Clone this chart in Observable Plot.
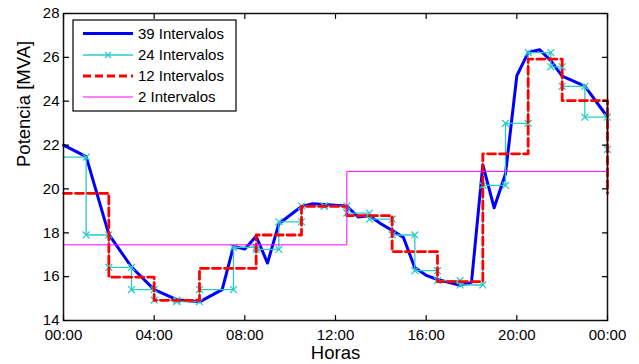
<!DOCTYPE html>
<html>
<head>
<meta charset="utf-8">
<script src="https://cdn.jsdelivr.net/npm/d3@7"></script>
<script src="https://cdn.jsdelivr.net/npm/@observablehq/plot@0.6"></script>
<style>
  html, body { margin: 0; padding: 0; background: white; }
  #chart { position: relative; width: 639px; height: 364px; }
</style>
</head>
<body>
<div id="chart"></div>
<script>
// ---- Data ----
const seriesNames = ["39 Intervalos", "24 Intervalos", "12 Intervalos", "2 Intervalos"];
const seriesColors = ["#0000ff", "#2ccaca", "#ff0000", "#ff00ff"];

// 39 intervals: hour, MVA
const blueT = [0, 1, 2, 3, 4, 5, 6, 7, 7.5, 8, 8.5, 9, 9.5, 10.5, 11, 11.5, 12.5, 13, 13.5, 14, 14.5, 15, 15.5, 16, 16.5, 17.5, 18, 18.5, 19, 19.5, 20, 20.5, 21, 21.5, 22, 23, 24];
const blueV = [22.0, 21.47, 17.93, 16.44, 15.41, 14.95, 14.85, 15.41, 17.38, 17.26, 17.84, 16.62, 18.41, 19.2, 19.33, 19.29, 19.22, 18.72, 18.78, 18.41, 18.11, 17.78, 16.4, 16.06, 15.87, 15.61, 15.74, 21.1, 19.14, 20.69, 25.16, 26.22, 26.35, 25.85, 25.14, 24.69, 23.28];

// 24 intervals: boundaries and step values
const cyanT = [0, 1, 2, 3, 4, 5, 6, 7.5, 8.5, 9.5, 10.5, 11.5, 12.5, 13.5, 14.5, 15.5, 16.5, 17.5, 18.5, 19.5, 20.5, 21.5, 22, 23, 24];
const cyanV = [21.45, 17.9, 16.42, 15.41, 14.93, 14.86, 15.41, 17.34, 17.24, 18.5, 19.22, 19.22, 18.9, 18.62, 17.9, 16.27, 15.82, 15.62, 20.16, 22.99, 26.22, 25.57, 24.68, 23.27];
const cyanEnd = 21.8;

// 12 intervals
const redT = [0, 2, 4, 6, 8.5, 10.5, 12.5, 14.5, 16.5, 18.5, 20.5, 22, 24];
const redV = [19.8, 15.98, 14.92, 16.38, 17.9, 19.2, 18.78, 17.14, 15.77, 21.6, 25.92, 24.03];
const redEnd = 19.8;

// 2 intervals
const magT = [0, 12.5, 24];
const magV = [17.45, 20.8];
const magEnd = 17.45;

const xTicks = [0, 4, 8, 12, 16, 20, 24];
const yTicks = [14, 16, 18, 20, 22, 24, 26, 28];
const xTickLabels = ["00:00", "04:00", "08:00", "12:00", "16:00", "20:00", "00:00"];

// ---- Build tables ----
const blue = blueT.map((t, i) => ({t, v: blueV[i]}));
function steps(T, V, end) {
  const pts = [];
  V.forEach((v, i) => { pts.push({t: T[i], v}); pts.push({t: T[i + 1], v}); });
  pts.push({t: T[T.length - 1], v: end});
  return pts;
}
const cyan = steps(cyanT, cyanV, cyanEnd);
const red = steps(redT, redV, redEnd);
const mag = steps(magT, magV, magEnd);

const tickStyle = {stroke: "black", strokeWidth: 1.2};

const svg = Plot.plot({
  width: 639,
  height: 364,
  marginLeft: 63,
  marginRight: 32,
  marginTop: 13,
  marginBottom: 44,
  style: {fontFamily: "'Liberation Sans', Arial, sans-serif", fontSize: "15px", color: "black", background: "white"},
  x: {domain: [0, 24]},
  y: {domain: [14, 28]},
  marks: [
    Plot.line(blue, {x: "t", y: "v", stroke: seriesColors[0], strokeWidth: 3}),
    Plot.line(cyan, {x: "t", y: "v", stroke: seriesColors[1], strokeWidth: 1.3}),
    Plot.dot(cyan.slice(1), {x: "t", y: "v", symbol: "times", r: 3.2, stroke: seriesColors[1], strokeWidth: 1.3}),
    Plot.line(red, {x: "t", y: "v", stroke: seriesColors[2], strokeWidth: 2.8, strokeDasharray: "8,4"}),
    Plot.line(mag, {x: "t", y: "v", stroke: seriesColors[3], strokeWidth: 1}),
    Plot.frame({stroke: "#111", strokeWidth: 1.5}),
    Plot.axisX({ticks: xTicks, tickSize: 0, tickPadding: 9, tickFormat: (d) => xTickLabels[xTicks.indexOf(d)], fontSize: 15, label: null}),
    Plot.axisY({ticks: yTicks, tickSize: 0, tickPadding: 4, fontSize: 15, label: null}),
    Plot.vector(xTicks, {x: d => d, y: 14, length: 5, rotate: 0, anchor: "start", shape: "spike", r: 0, ...tickStyle}),
    Plot.vector(xTicks, {x: d => d, y: 28, length: 5, rotate: 180, anchor: "start", shape: "spike", r: 0, ...tickStyle}),
    Plot.vector(yTicks, {x: 0, y: d => d, length: 5, rotate: 90, anchor: "start", shape: "spike", r: 0, ...tickStyle}),
    Plot.vector(yTicks, {x: 24, y: d => d, length: 5, rotate: -90, anchor: "start", shape: "spike", r: 0, ...tickStyle}),
    Plot.text(["Horas"], {frameAnchor: "bottom", dy: 38, fontSize: 18.5, text: d => d}),
    Plot.text(["Potencia [MVA]"], {frameAnchor: "left", dx: -39, rotate: -90, fontSize: 18.5, text: d => d})
  ]
});

// ---- Legend (inside the plot, upper left) ----
const g = d3.select(svg).append("g")
  .attr("font-family", "'Liberation Sans', Arial, sans-serif")
  .attr("font-size", 15)
  .attr("text-anchor", "start");
g.append("rect").attr("x", 73).attr("y", 20).attr("width", 163).attr("height", 91)
  .attr("fill", "white").attr("stroke", "black").attr("stroke-width", 1.2);
const rowY = [33.5, 55, 76, 97];
const lineStyles = [
  {w: 3, dash: null},
  {w: 1.3, dash: null},
  {w: 2.8, dash: "8,4"},
  {w: 1, dash: null}
];
seriesNames.forEach((name, i) => {
  const y = rowY[i];
  g.append("line").attr("x1", 83).attr("x2", 133).attr("y1", y).attr("y2", y)
    .attr("stroke", seriesColors[i]).attr("stroke-width", lineStyles[i].w)
    .attr("stroke-dasharray", lineStyles[i].dash);
  if (i === 1) {
    g.append("path").attr("d", `M105,${y-3}L111,${y+3}M105,${y+3}L111,${y-3}`)
      .attr("stroke", seriesColors[1]).attr("stroke-width", 1.3);
  }
  g.append("text").attr("x", 138).attr("y", y).attr("dy", "0.35em")
    .attr("text-anchor", "start").attr("fill", "black").text(name);
});

document.getElementById("chart").appendChild(svg);
</script>
</body>
</html>
